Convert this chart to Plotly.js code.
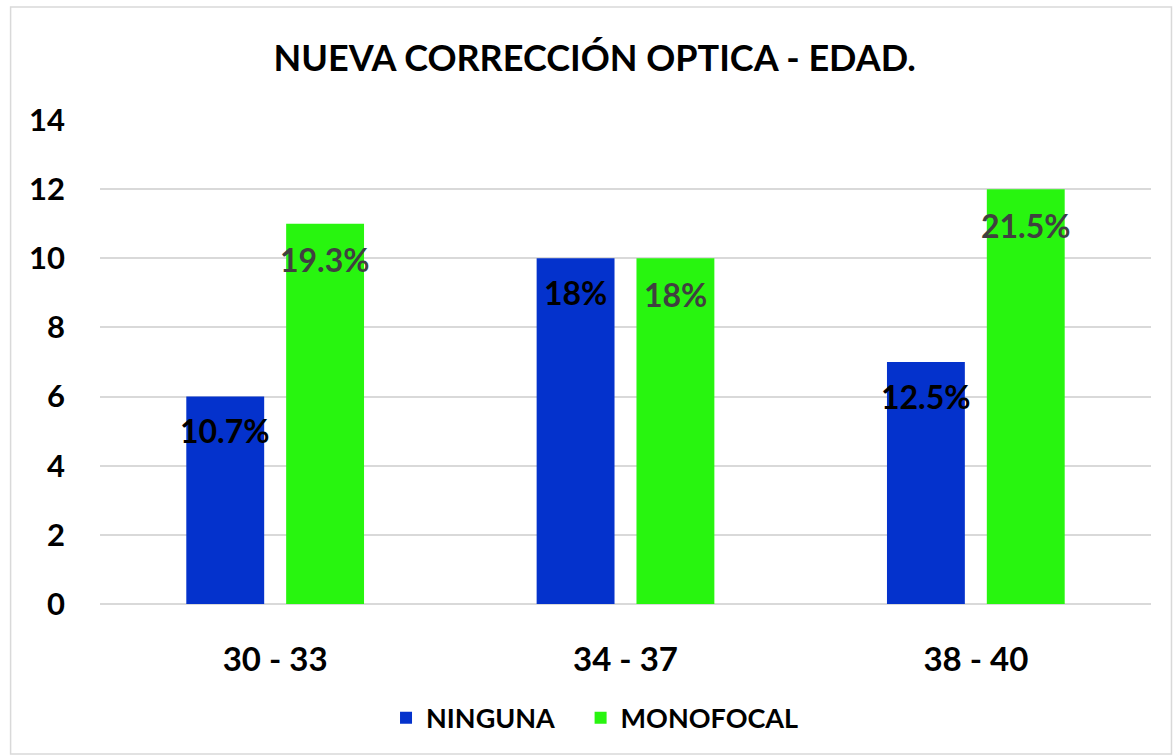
<!DOCTYPE html>
<html>
<head>
<meta charset="utf-8">
<script src="https://cdn.plot.ly/plotly-3.0.1.min.js"></script>
<style>html,body{margin:0;padding:0;background:#fff;}#chart{width:1173px;height:755px;}</style>
</head>
<body>
<div id="chart"></div>
<script>
const categories = ["30 - 33", "34 - 37", "38 - 40"];
const ninguna = [6, 10, 7];
const monofocal = [11, 10, 12];
const ningunaLabels = ["10.7%", "18%", "12.5%"];
const monofocalLabels = ["19.3%", "18%", "21.5%"];
const yTicks = [0, 2, 4, 6, 8, 10, 12, 14];

const FONT = "Lato, 'Open Sans', sans-serif";

const traces = [
  {type: "bar", name: "<b>NINGUNA</b>&nbsp;&nbsp;&nbsp;", x: categories, y: ninguna,
   marker: {color: "#0432CC"}, hoverinfo: "none"},
  {type: "bar", name: "<b>MONOFOCAL</b>", x: categories, y: monofocal,
   marker: {color: "#28F50F"}, hoverinfo: "none"}
];

const annotations = [];
categories.forEach((c, i) => {
  annotations.push({x: c, y: ninguna[i], xref: "x", yref: "y", xshift: -50,
    text: "<b>" + ningunaLabels[i] + "</b>", showarrow: false, yanchor: "middle", yshift: -34,
    font: {family: FONT, size: 32, color: "#000000"}});
  annotations.push({x: c, y: monofocal[i], xref: "x", yref: "y", xshift: 50,
    text: "<b>" + monofocalLabels[i] + "</b>", showarrow: false, yanchor: "middle", yshift: -36,
    font: {family: FONT, size: 32, color: "#404040"}});
});

const layout = {
  width: 1173, height: 755,
  margin: {l: 99.5, r: 21.5, t: 120, b: 151},
  paper_bgcolor: "#ffffff", plot_bgcolor: "#ffffff",
  font: {family: FONT, color: "#000000"},
  title: {text: "<b>NUEVA CORRECCIÓN OPTICA - EDAD.</b>", x: 0.507, xanchor: "center",
          y: 0.923, yanchor: "middle", font: {family: FONT, size: 36, color: "#000000"}},
  barmode: "group", bargap: 0.43, bargroupgap: 0.22,
  xaxis: {tickfont: {family: FONT, size: 33, color: "#000000"}, showline: false,
          ticks: "", ticklabelstandoff: 33, tickprefix: "<b>", ticksuffix: "</b>", fixedrange: true},
  yaxis: {range: [0, 14], tickvals: yTicks, ticktext: yTicks.map(v => "<b>" + v + "</b>"),
          tickfont: {family: FONT, size: 31, color: "#000000"},
          gridcolor: "#D9D9D9", gridwidth: 2, zeroline: true, zerolinecolor: "#D9D9D9", zerolinewidth: 2,
          showline: false, ticks: "", ticklabelstandoff: 34, fixedrange: true},
  showlegend: true,
  legend: {orientation: "h", x: 0.471, xanchor: "center", y: -0.236, yanchor: "middle",
           font: {family: FONT, size: 27, color: "#000000"}, itemwidth: 30, traceorder: "normal"},
  annotations: annotations,
  shapes: [{type: "rect", xref: "paper", yref: "paper", x0: (10 - 99.5) / 1052, x1: (1172 - 99.5) / 1052,
            y0: (604 - 754) / 484, y1: (604 - 7) / 484, line: {color: "#D9D9D9", width: 1.5}, layer: "below"}]
};

Plotly.newPlot("chart", traces, layout, {displayModeBar: false, staticPlot: true});
</script>
</body>
</html>
